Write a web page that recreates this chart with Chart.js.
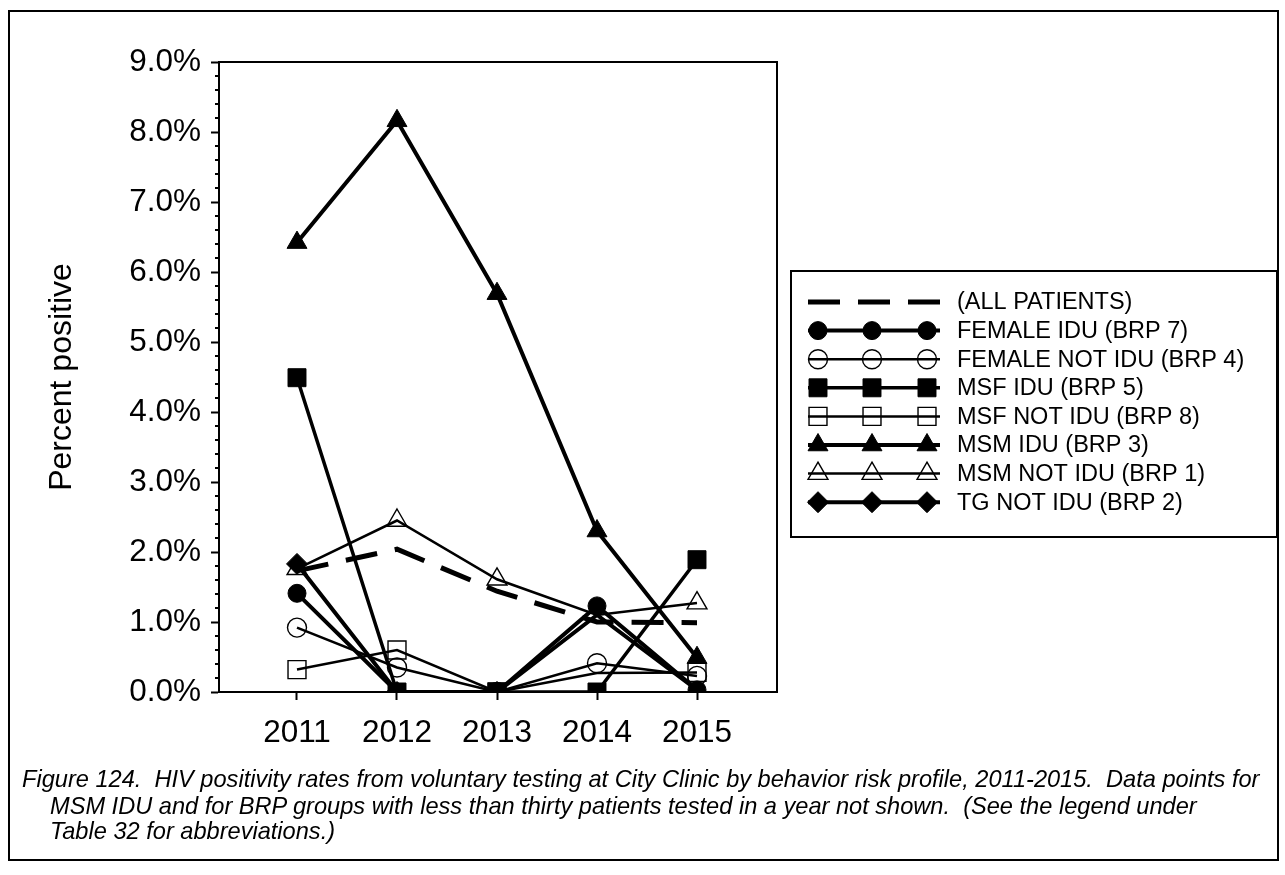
<!DOCTYPE html>
<html>
<head>
<meta charset="utf-8">
<script src="https://cdn.jsdelivr.net/npm/chart.js@4.4.1/dist/chart.umd.min.js"></script>
<style>
  html, body { margin: 0; padding: 0; background: #fff; }
  #wrap { position: relative; width: 1285px; height: 875px; }
  #frame { position: absolute; left: 8px; top: 10px; width: 1267px; height: 847px; border: 2px solid #000; }
  #hiv { position: absolute; left: 0; top: 0; }
  .cap { position: absolute; font: italic 23.6px "Liberation Sans", Arial, sans-serif; color: #000; white-space: nowrap; line-height: 26px; }
</style>
</head>
<body>
<div id="wrap">
  <div id="frame"></div>
  <canvas id="hiv" width="1285" height="875"></canvas>
  <div class="cap" style="left:22px;top:766px">Figure 124.&nbsp; HIV positivity rates from voluntary testing at City Clinic by behavior risk profile, 2011-2015.&nbsp; Data points for</div>
  <div class="cap" style="left:50px;top:793px">MSM IDU and for BRP groups with less than thirty patients tested in a year not shown.&nbsp; (See the legend under</div>
  <div class="cap" style="left:50px;top:818px">Table 32 for abbreviations.)</div>
</div>
<script>
//---------------------------------------------- DATA ----------------------------------------------
const years = [2011, 2012, 2013, 2014, 2015];
const yTicks = [0, 1, 2, 3, 4, 5, 6, 7, 8, 9];

const allPatients = [1.73, 2.04, 1.44, 1.0, 0.99];
const femaleIdu = [1.41, 0.0, 0.0, 1.23, 0.03];
const femaleNotIdu = [0.92, 0.35, 0.0, 0.41, 0.23];
const msfIdu = [4.49, 0.0, 0.0, 0.0, 1.89];
const msfNotIdu = [0.32, 0.6, 0.0, 0.27, 0.28];
const msmIdu = [6.42, 8.16, 5.69, 2.3, 0.49];
const msmNotIdu = [1.76, 2.45, 1.61, 1.1, 1.27];
const tgNotIdu = [1.83, 0.0, 0.0, 1.1, 0.03];

const FONT = "'Liberation Sans', Arial, sans-serif";
const pts = (arr) => years.map((x, i) => ({ x: x, y: arr[i] }));

// filled = black marker, open = hollow marker with thin outline
// hidden = year indexes whose marker is not shown (small groups)
function series(label, arr, style, filled, width, radius, hidden) {
  const skip = hidden || [];
  return {
    label: label,
    data: pts(arr),
    borderColor: "#000",
    borderWidth: width,
    pointStyle: style,
    radius: radius,
    pointRadius: years.map((y, i) => (skip.includes(i) ? 0 : radius)),
    pointBackgroundColor: filled ? "#000" : "rgba(0,0,0,0)",
    pointBorderColor: "#000",
    pointBorderWidth: filled ? 1 : 1.4,
    tension: 0,
    fill: false,
  };
}

const dataLine = {
  datasets: [
    {
      label: "(ALL PATIENTS)",
      data: pts(allPatients),
      borderColor: "#000",
      borderWidth: 5,
      borderDash: [32, 18],
      pointRadius: 0,
      radius: 0,
      tension: 0,
      fill: false,
    },
    series("FEMALE IDU (BRP 7)", femaleIdu, "circle", true, 4, 9),
    series("FEMALE NOT IDU (BRP 4)", femaleNotIdu, "circle", false, 2.5, 9.5),
    series("MSF IDU (BRP 5)", msfIdu, "rect", true, 3.5, 12.7),
    series("MSF NOT IDU (BRP 8)", msfNotIdu, "rect", false, 2.5, 12.7, [3]),
    series("MSM IDU (BRP 3)", msmIdu, "triangle", true, 4, 11.5),
    series("MSM NOT IDU (BRP 1)", msmNotIdu, "triangle", false, 2.5, 11.5, [3]),
    series("TG NOT IDU (BRP 2)", tgNotIdu, "rectRot", true, 4, 10.5, [3, 4]),
  ],
};

//---------------------------------------------- PLUGINS -------------------------------------------
// plot frame + minor ticks on the y axis
const framePlugin = {
  id: "frame",
  afterDraw(chart) {
    const { ctx, chartArea: a, scales } = chart;
    ctx.save();
    ctx.strokeStyle = "#000";
    ctx.lineWidth = 2;
    ctx.strokeRect(a.left, a.top, a.right - a.left, a.bottom - a.top);
    const y = scales.y;
    for (let i = 0; i <= 45; i++) {
      if (i % 5 === 0) continue;
      const py = Math.round(y.getPixelForValue(i * 0.2));
      ctx.beginPath();
      ctx.moveTo(a.left - 4, py);
      ctx.lineTo(a.left, py);
      ctx.stroke();
    }
    ctx.restore();
  },
};

// legend box at the right, drawn with the dataset styles
const legendPlugin = {
  id: "boxLegend",
  afterDraw(chart) {
    const ctx = chart.ctx;
    const box = { x: 791, y: 271, w: 486, h: 266 };
    ctx.save();
    ctx.strokeStyle = "#000";
    ctx.lineWidth = 2;
    ctx.strokeRect(box.x, box.y, box.w, box.h);
    chart.data.datasets.forEach((ds, i) => {
      const yy = 302 + i * 28.6;
      ctx.save();
      ctx.strokeStyle = "#000";
      ctx.lineWidth = ds.borderWidth;
      ctx.setLineDash(ds.borderDash || []);
      ctx.beginPath();
      ctx.moveTo(808, yy);
      ctx.lineTo(940, yy);
      ctx.stroke();
      ctx.restore();
      if (ds.radius) {
        [818, 872, 927].forEach((mx) => {
          ctx.fillStyle = ds.pointBackgroundColor;
          ctx.strokeStyle = "#000";
          ctx.lineWidth = ds.pointBorderWidth;
          ctx.setLineDash([]);
          Chart.helpers.drawPoint(ctx, { pointStyle: ds.pointStyle, radius: ds.radius, rotation: 0, borderWidth: ds.pointBorderWidth }, mx, yy);
        });
      }
      ctx.fillStyle = "#000";
      ctx.font = "23.5px " + FONT;
      ctx.textBaseline = "middle";
      ctx.fillText(ds.label, 957, yy + 1);
    });
    ctx.restore();
  },
};

//---------------------------------------------- CHART ---------------------------------------------
const configLine = {
  type: "line",
  data: dataLine,
  plugins: [framePlugin, legendPlugin],
  options: {
    responsive: false,
    animation: false,
    layout: { padding: { left: 30, top: 62, right: 508, bottom: 123 } },
    plugins: {
      legend: { display: false },
      tooltip: { enabled: false },
    },
    scales: {
      x: {
        type: "linear",
        min: 2010.22,
        max: 2015.8,
        afterBuildTicks(scale) {
          scale.ticks = years.map((v) => ({ value: v }));
        },
        afterFit(scale) {
          scale.height = 60;
        },
        grid: { drawOnChartArea: false, tickLength: 8, tickWidth: 2, color: "#000" },
        border: { color: "#000", width: 2 },
        ticks: {
          color: "#000",
          padding: 14,
          maxRotation: 0,
          font: { family: FONT, size: 31.5 },
          callback: (v) => String(v),
        },
      },
      y: {
        min: 0,
        max: 9,
        afterBuildTicks(scale) {
          scale.ticks = yTicks.map((v) => ({ value: v }));
        },
        afterFit(scale) {
          scale.width = 189;
        },
        grid: { drawOnChartArea: false, tickLength: 8, tickWidth: 2, color: "#000" },
        border: { color: "#000", width: 2 },
        title: {
          display: true,
          text: "Percent positive",
          color: "#000",
          padding: { top: 13, bottom: 0 },
          font: { family: FONT, size: 32 },
        },
        ticks: {
          color: "#000",
          padding: 10,
          font: { family: FONT, size: 31.5 },
          callback: (v) => v.toFixed(1) + "%",
        },
      },
    },
  },
};

const hivChart = new Chart(document.getElementById("hiv"), configLine);
</script>
</body>
</html>
